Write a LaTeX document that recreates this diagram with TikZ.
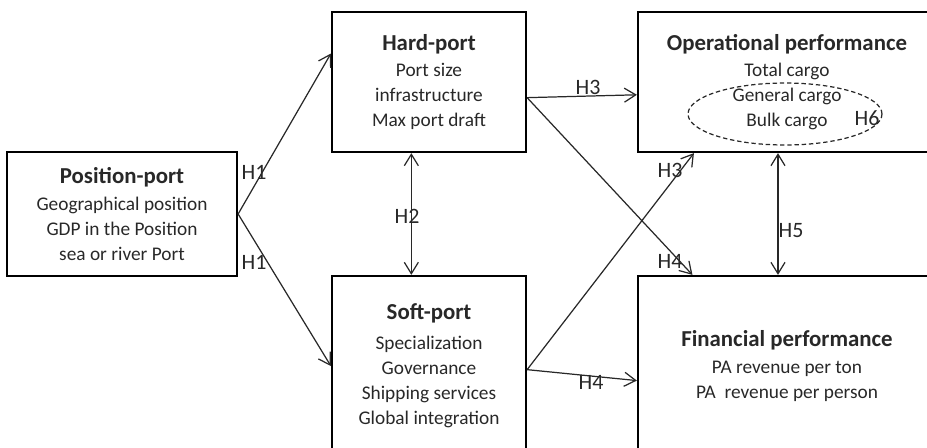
\documentclass[tikz,border=0pt]{standalone}
\usepackage{fontspec}
\setmainfont{Carlito}
\usepackage{xcolor}
\usepackage{tikz}
\definecolor{ink}{RGB}{40,40,40}
\usetikzlibrary{arrows.meta,shapes.geometric,calc}

\begin{document}
\begin{tikzpicture}[x=0.02cm, y=-0.02cm,
    >={Straight Barb[length=6.5pt,width=8pt]},
    portbox/.style={draw, line width=1.3pt, align=center, text=ink,
        font=\fontsize{11}{14.2}\selectfont},
    link/.style={->, line width=0.7pt, draw=ink},
    hyp/.style={text=ink, font=\fontsize{12.5}{14}\selectfont, inner sep=0pt}]
    \useasboundingbox (0,0) rectangle (927,447);
    % Boxes
    \node[portbox, minimum width=4.6cm, minimum height=2.48cm] (pos) at (122,214)
        {{\fontsize{13}{15}\selectfont\bfseries Position-port}\\[1pt]
         Geographical position\\ GDP in the Position\\ sea or\ river Port};
    \node[portbox, minimum width=3.88cm, minimum height=2.8cm] (hard) at (429,82)
        {{\fontsize{13}{15}\selectfont\bfseries Hard-port}\\[1pt]
         Port size\\ infrastructure\\ Max port draft};
    \node[portbox, minimum width=3.88cm, minimum height=3.6cm] (soft) at (429,366)
        {{\fontsize{13}{15}\selectfont\bfseries Soft-port}\\[3pt]
         Specialization\\ Governance\\ Shipping services\\ Global integration};
    \node[portbox, minimum width=5.96cm, minimum height=2.8cm] (oper) at (787,82)
        {{\fontsize{13}{15}\selectfont\bfseries Operational performance}\\[1pt]
         Total cargo\\ General\ cargo\\ Bulk cargo};
    \node[portbox, minimum width=5.96cm, minimum height=3.6cm] (fin) at (787,366)
        {{\fontsize{13}{15}\selectfont\bfseries Financial performance}\\[1pt]
         PA revenue per ton\\ PA\ \ revenue per person};
    % Cargo group
    \node[draw=ink, dashed, dash pattern=on 2.5pt off 1.6pt, line width=0.7pt,
        ellipse, minimum width=3.88cm, minimum height=1.24cm] (grp) at (785,114) {};
    % Hypotheses
    \draw[link] (pos.east) -- ($(hard.north west)!0.3!(hard.south west)$);
    \draw[link] (pos.east) -- (soft.west);
    \draw[link, <->] ($(hard.south west)!0.41!(hard.south east)$)
        -- ($(soft.north west)!0.41!(soft.north east)$);
    \draw[link] ($(hard.north east)!0.61!(hard.south east)$)
        -- ($(oper.north west)!0.59!(oper.south west)$);
    \draw[link] ($(hard.north east)!0.61!(hard.south east)$)
        -- ($(fin.north west)!0.185!(fin.north east)$);
    \draw[link] ($(soft.north east)!0.52!(soft.south east)$)
        -- ($(oper.south west)!0.19!(oper.south east)$);
    \draw[link] ($(soft.north east)!0.52!(soft.south east)$)
        -- ($(fin.north west)!0.58!(fin.south west)$);
    \draw[link, <->] ($(oper.south west)!0.47!(oper.south east)$)
        -- ($(fin.north west)!0.47!(fin.north east)$);
    % Labels
    \node[hyp] (h1a) at (254,172) {H1};
    \node[hyp] (h1b) at (254,262) {H1};
    \node[hyp] (h2) at (407,216) {H2};
    \node[hyp] (h3a) at (588,87) {H3};
    \node[hyp] (h3b) at (670,170) {H3};
    \node[hyp] (h4a) at (670,261) {H4};
    \node[hyp] (h4b) at (591,382) {H4};
    \node[hyp] (h5) at (791,231) {H5};
    \node[hyp] (h6) at (867,118) {H6};
\end{tikzpicture}
\end{document}
